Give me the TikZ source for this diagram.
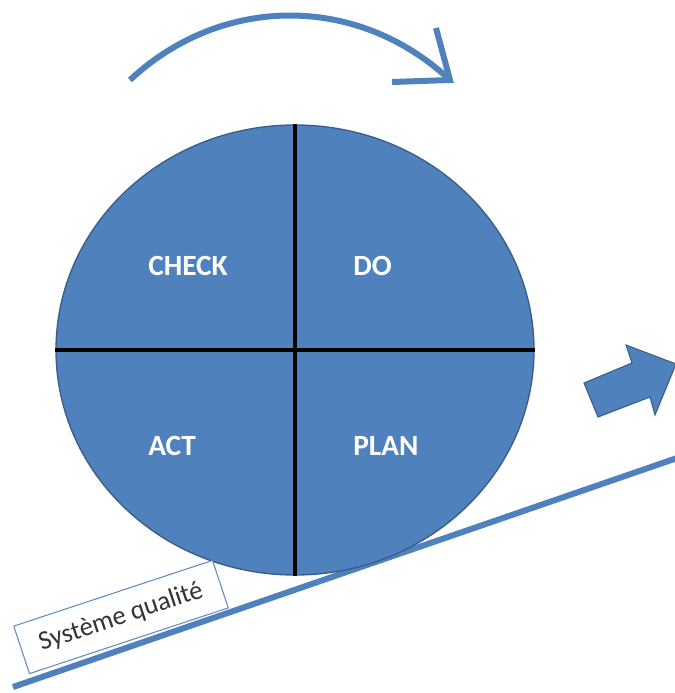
\documentclass[tikz,border=0pt]{standalone}
\usepackage{fontspec}
\setmainfont{Carlito}
\usetikzlibrary{shapes.geometric}
\definecolor{ofblue}{RGB}{79,129,189}
\definecolor{ofborder}{RGB}{56,93,138}
\definecolor{lblborder}{RGB}{100,140,195}
\tikzset{
  quad/.style={text=white, font=\fontsize{22}{26}\selectfont\bfseries, anchor=west, inner sep=0pt},
  blueline/.style={draw=ofblue, line width=4.5pt},
}
\begin{document}
\begin{tikzpicture}[x=0.75pt, y=-0.75pt]
\path[use as bounding box] (0,0) rectangle (675,693);
\clip (0,0) rectangle (675,693);
% ground line
\coordinate (g1) at (13,687);
\coordinate (g2) at (680,457);
\draw[blueline] (g1) -- (g2);
% PDCA wheel
\node[ellipse, fill=ofblue, draw=ofborder, line width=1pt, minimum width=358.5pt, minimum height=337.5pt, inner sep=0pt] (pdca) at (295,350) {};
\draw[line width=3.6pt, black] (pdca.north) -- (pdca.south);
\draw[line width=3.6pt, black] (pdca.west) -- (pdca.east);
\node[quad] (check) at (148,266) {CHECK};
\node[quad] (do) at (353,266) {DO};
\node[quad] (act) at (148,446) {ACT};
\node[quad] (plan) at (353,446) {PLAN};
% rotation arrow
\coordinate (a0) at (130,80);
\coordinate (a1) at (450,80);
\coordinate (h1) at (436,28);
\coordinate (h2) at (392,82);
\draw[blueline, line cap=butt] (a0) .. controls (222,-6) and (358,-6) .. (a1);
\draw[blueline, line join=miter, line cap=butt] (h1) -- (a1) -- (h2);
% block arrow
\filldraw[fill=ofblue, draw=ofborder, line width=0.8pt, line join=miter]
  (598,417) -- (584,383) -- (632,363) -- (626,345) -- (676,364) -- (655,415) -- (650,397) -- cycle;
% label
\node[draw=lblborder, fill=white, line width=0.8pt, rotate=18.3, minimum width=157pt, minimum height=37.5pt, inner sep=0pt, text=black!80, font=\fontsize{20}{22}\selectfont] (lbl) at (121,617) {Système qualité};
\end{tikzpicture}
\end{document}
